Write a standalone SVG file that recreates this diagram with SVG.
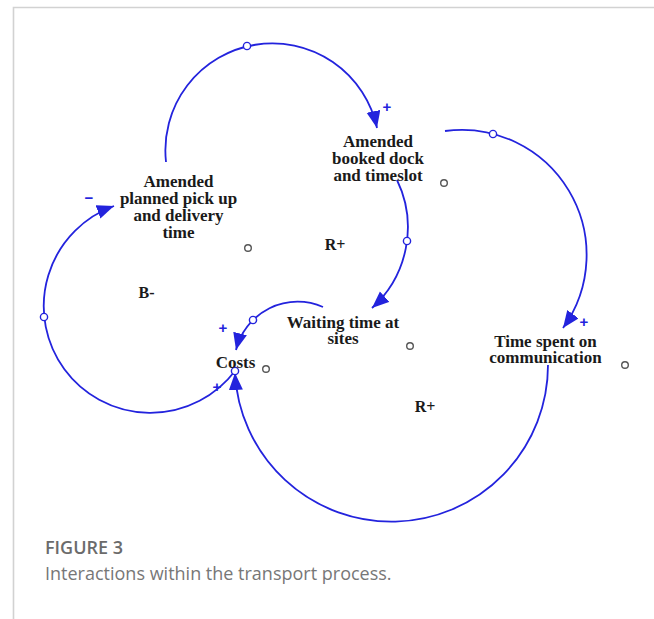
<svg xmlns="http://www.w3.org/2000/svg" width="654" height="619" viewBox="0 0 654 619">
<style>
.frame{stroke:#d2d2d2;stroke-width:1.6;fill:none}
.lnk{fill:none;stroke:#2323dd;stroke-width:1.8}
.hdl{fill:#fff;stroke:#2323dd;stroke-width:1.4}
.nc{fill:#fff;stroke:#555;stroke-width:1.4}
.nt{font-family:"Liberation Serif","Times New Roman",serif;font-weight:bold;font-size:17px;fill:#1a1a1a;text-anchor:middle}
.lp{font-family:"Liberation Serif","Times New Roman",serif;font-weight:bold;font-size:16px;fill:#1a1a1a;text-anchor:middle}
.pol{font-family:"Liberation Sans",Arial,sans-serif;font-weight:bold;font-size:15px;fill:#2323dd;text-anchor:middle}
.cap1{font-family:"Open Sans","Noto Sans",sans-serif;font-weight:600;font-size:18px;fill:#6b6b6b}
.cap2{font-family:"Open Sans","Noto Sans",sans-serif;font-size:18px;fill:#777}
</style>
<defs>
<marker id="ah" markerUnits="userSpaceOnUse" markerWidth="19" markerHeight="15" refX="17" refY="7" orient="auto">
<path d="M0,0 L17,7 L0,14 z" fill="#2323dd"/>
</marker>
</defs>
<path class="frame" d="M13.5,619 L13.5,7.5 L654,7.5"/>
<g id="connectors">
<path class="lnk" marker-end="url(#ah)" d="M166,162 A107,107 0 0 1 377,128"/>
<path class="lnk" marker-end="url(#ah)" d="M235,371 A106.6,106.6 0 1 1 114,206"/>
<path class="lnk" marker-end="url(#ah)" d="M397,180 A108.7,108.7 0 0 1 372,308"/>
<path class="lnk" marker-end="url(#ah)" d="M323,307 A63.5,63.5 0 0 0 236,350"/>
<path class="lnk" marker-end="url(#ah)" d="M445,131 A125,125 0 0 1 563,328"/>
<path class="lnk" marker-end="url(#ah)" d="M548,365 A156.6,156.6 0 0 1 235,373"/>
<circle class="hdl" cx="247" cy="46" r="3.6"/>
<circle class="hdl" cx="44" cy="317" r="3.6"/>
<circle class="hdl" cx="407" cy="241" r="3.6"/>
<circle class="hdl" cx="253" cy="320" r="3.6"/>
<circle class="hdl" cx="493" cy="134" r="3.6"/>
<circle class="hdl" cx="235" cy="371" r="3.6"/>
<text class="pol" x="387" y="112">+</text>
<text class="pol" x="89" y="203">−</text>
<text class="pol" x="223" y="333">+</text>
<text class="pol" x="217" y="392">+</text>
<text class="pol" x="584" y="327">+</text>
</g>
<g id="node-planned">
<text class="nt" x="178.5" y="187">Amended</text>
<text class="nt" x="178.5" y="204">planned pick up</text>
<text class="nt" x="178.5" y="221">and delivery</text>
<text class="nt" x="178.5" y="238">time</text>
<circle class="nc" cx="248" cy="248" r="3.3"/>
</g>
<g id="node-booked">
<text class="nt" x="378" y="147">Amended</text>
<text class="nt" x="378" y="164">booked dock</text>
<text class="nt" x="378" y="181">and timeslot</text>
<circle class="nc" cx="444" cy="183" r="3.3"/>
</g>
<g id="node-waiting">
<text class="nt" x="343" y="328">Waiting time at</text>
<text class="nt" x="343" y="344">sites</text>
<circle class="nc" cx="410" cy="346" r="3.3"/>
</g>
<g id="node-costs">
<text class="nt" x="235.5" y="368">Costs</text>
<circle class="nc" cx="266" cy="369" r="3.3"/>
</g>
<g id="node-communication">
<text class="nt" x="545.5" y="347">Time spent on</text>
<text class="nt" x="545.5" y="363">communication</text>
<circle class="nc" cx="625" cy="365" r="3.3"/>
</g>
<g id="loop-labels">
<text class="lp" x="146.5" y="298">B-</text>
<text class="lp" x="335" y="250">R+</text>
<text class="lp" x="425" y="412">R+</text>
</g>
<g id="caption">
<text class="cap1" x="45" y="554">FIGURE 3</text>
<text class="cap2" x="45" y="580">Interactions within the transport process.</text>
</g>
</svg>
